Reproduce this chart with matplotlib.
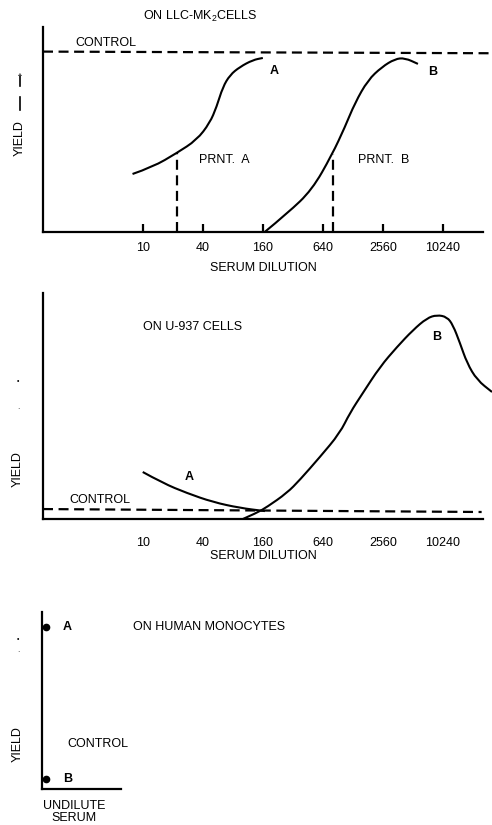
import matplotlib
matplotlib.use("Agg")
import numpy as np
import matplotlib.pyplot as plt
from matplotlib.ticker import NullLocator
from matplotlib.lines import Line2D
from matplotlib.path import Path
from matplotlib.patches import PathPatch

plt.rcParams['font.family'] = ['Liberation Sans', 'DejaVu Sans']
plt.rcParams['mathtext.fontset'] = 'custom'
plt.rcParams['mathtext.rm'] = 'Liberation Sans'

# ====== DATA ======
dilution_ticks = [10, 40, 160, 640, 2560, 10240]
tick_labels = ['10', '40', '160', '640', '2560', '10240']

# panel 1: LLC-MK2 cells
llc_a_dil = [7.9, 12.6, 21.9, 34.8, 47, 55, 63.5, 75, 94, 127, 160]
llc_a_yield = [28.3, 31.7, 38.5, 44.9, 53.2, 61, 70.7, 76.6, 80.5, 83.9, 84.9]
llc_b_dil = [167, 285, 497, 788, 1065, 1340, 1810, 2500, 3380, 4250, 5745]
llc_b_yield = [0, 9.3, 20.5, 37.6, 51.2, 62.9, 74.1, 80.5, 84.4, 84.9, 82]
llc_control_dil = [1, 30500]
llc_control_yield = [88, 87.2]
prnt_dil = [22, 806]
prnt_yield = [38.5, 38]

# panel 2: U-937 cells
u937_a_dil = [10, 15.9, 27.6, 50.4, 94, 168]
u937_a_yield = [20.8, 15.9, 11.5, 7.5, 4.9, 3.5]
u937_b_dil = [101, 139, 176, 279, 376, 597, 947, 1193, 1613, 2389, 3536,
              5120, 7075, 8910, 11240, 12900, 15150, 17840, 22480, 31770]
u937_b_yield = [0, 2.7, 5.3, 11.5, 17.3, 27.4, 38, 46.9, 55.8, 67.3, 76.1,
                83.6, 88.9, 90.3, 89.4, 85.8, 77.9, 69, 61.5, 56.2]
u937_control_dil = [1, 25000]
u937_control_yield = [4.4, 3.1]

# panel 3: human monocytes (undiluted serum)
mono_labels = ['A', 'B']
mono_yield = [91.5, 5.6]

W, H = 492, 825
FS = 9
DASH = (0, (4.5, 2.5))


def box(l, t, r, b):
    return [l / W, 1 - b / H, (r - l) / W, (b - t) / H]


def style_axes(ax):
    for s in ['top', 'right']:
        ax.spines[s].set_visible(False)
    for s in ['left', 'bottom']:
        ax.spines[s].set_linewidth(1.6)
    ax.set_yticks([])
    ax.set_ylim(0, 100)


def smooth_curve(ax, xs, ys, clip=True):
    # quadratic bezier through the read points (midpoints in log-x)
    verts = [(xs[0], ys[0])]
    codes = [Path.MOVETO]
    for i in range(1, len(xs) - 1):
        mx = np.sqrt(xs[i] * xs[i + 1])
        my = (ys[i] + ys[i + 1]) / 2
        verts += [(xs[i], ys[i]), (mx, my)]
        codes += [Path.CURVE3, Path.CURVE3]
    verts.append((xs[-1], ys[-1]))
    codes.append(Path.LINETO)
    patch = PathPatch(Path(verts, codes), facecolor='none', edgecolor='black',
                      lw=1.5, clip_on=clip)
    ax.add_patch(patch)


fig = plt.figure(figsize=(W / 100, H / 100), dpi=100)

# ====== PANEL 1 ======
ax1 = fig.add_axes(box(43, 27, 483, 232))
style_axes(ax1)
ax1.set_xscale('log', base=4)
ax1.set_xlim(1, 25800)
ax1.xaxis.set_minor_locator(NullLocator())
ax1.set_xticks(dilution_ticks)
ax1.set_xticklabels(tick_labels, fontsize=FS)
ax1.tick_params(axis='x', direction='in', length=6, width=1.6, pad=7)

smooth_curve(ax1, llc_a_dil, llc_a_yield)
smooth_curve(ax1, llc_b_dil, llc_b_yield)
ax1.plot(llc_control_dil, llc_control_yield, color='black', lw=1.6,
         linestyle=DASH, clip_on=False)
for d, y in zip(prnt_dil, prnt_yield):
    ax1.plot([d, d], [0, y], color='black', lw=1.6, linestyle=DASH)

ax1.text(10, 105, 'ON LLC-MK$_2$CELLS', fontsize=FS, va='center')
ax1.text(2.09, 92.2, 'CONTROL', fontsize=FS, va='center')
ax1.text(210, 78.5, 'A', fontsize=FS, ha='center', va='center', weight='bold')
ax1.text(8120, 78, 'B', fontsize=FS, ha='center', va='center', weight='bold')
ax1.text(36.5, 35.1, 'PRNT.  A', fontsize=FS, va='center')
ax1.text(1437, 35.1, 'PRNT.  B', fontsize=FS, va='center')
ax1.text(0.5, -0.176, 'SERUM DILUTION', fontsize=FS, ha='center', va='center',
         transform=ax1.transAxes)

fig.text(20 / W, 1 - 138 / H, 'YIELD', fontsize=FS, rotation=90,
         ha='center', va='center')
fig.add_artist(Line2D([20 / W, 20 / W], [1 - 110 / H, 1 - 97 / H],
                      color='black', lw=1.2))
fig.add_artist(Line2D([20 / W, 20 / W], [1 - 86 / H, 1 - 76 / H],
                      color='black', lw=1.2))
fig.text(20 / W, 1 - 76 / H, '^', fontsize=6, ha='center', va='center')

# ====== PANEL 2 ======
ax2 = fig.add_axes(box(43, 293, 483, 519))
style_axes(ax2)
ax2.set_xscale('log', base=4)
ax2.set_xlim(1, 25800)
ax2.xaxis.set_minor_locator(NullLocator())
ax2.set_xticks(dilution_ticks)
ax2.set_xticklabels(tick_labels, fontsize=FS)
ax2.tick_params(axis='x', length=0, pad=13)

smooth_curve(ax2, u937_a_dil, u937_a_yield)
smooth_curve(ax2, u937_b_dil, u937_b_yield, clip=False)
ax2.plot(u937_control_dil, u937_control_yield, color='black', lw=1.6,
         linestyle=DASH, clip_on=False)

ax2.text(10, 85, 'ON U-937 CELLS', fontsize=FS, va='center')
ax2.text(29, 18.6, 'A', fontsize=FS, ha='center', va='center', weight='bold')
ax2.text(8900, 80.5, 'B', fontsize=FS, ha='center', va='center', weight='bold')
ax2.text(1.85, 8.4, 'CONTROL', fontsize=FS, va='center')
ax2.text(0.5, -0.164, 'SERUM DILUTION', fontsize=FS, ha='center', va='center',
         transform=ax2.transAxes)

fig.text(18 / W, 1 - 469 / H, 'YIELD', fontsize=FS, rotation=90,
         ha='center', va='center')
fig.text(18 / W, 1 - 382 / H, '•', fontsize=5, ha='center', va='center')
fig.text(18 / W, 1 - 410 / H, '·', fontsize=5, ha='center', va='center')

# ====== PANEL 3 ======
ax3 = fig.add_axes(box(42, 612, 121, 789))
style_axes(ax3)
ax3.set_xlim(0, 1)
ax3.set_xticks([])
ax3.plot([0.05] * len(mono_yield), mono_yield, 'o', color='black',
         markersize=4.5, clip_on=False)
for lab, y in zip(mono_labels, mono_yield):
    ax3.text(0.32, y, lab, fontsize=FS, ha='center', va='center', weight='bold')

ax3.text(0.316, 25.4, 'CONTROL', fontsize=FS, va='center')
ax3.text(1.15, 91.5, 'ON HUMAN MONOCYTES', fontsize=FS, va='center')
ax3.text(0.405, -0.13, 'UNDILUTE\nSERUM', fontsize=FS, ha='center', va='center',
         linespacing=0.95, transform=ax3.transAxes)

fig.text(18 / W, 1 - 744 / H, 'YIELD', fontsize=FS, rotation=90,
         ha='center', va='center')
fig.text(18 / W, 1 - 640 / H, '•', fontsize=5, ha='center', va='center')
fig.text(18 / W, 1 - 653 / H, '·', fontsize=5, ha='center', va='center')

plt.savefig("out.png", dpi=100)
